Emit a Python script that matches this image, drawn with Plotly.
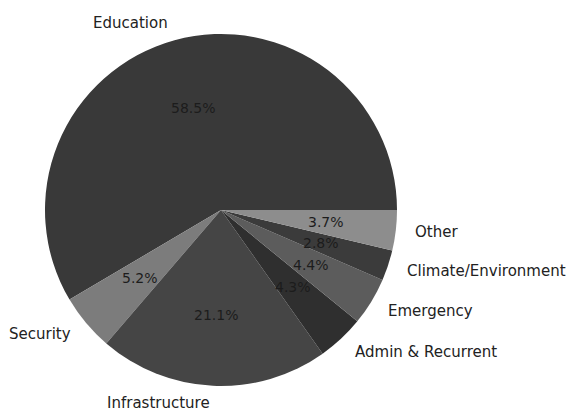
import math
import plotly.graph_objects as go

categories = ["Education", "Security", "Infrastructure", "Admin & Recurrent",
              "Emergency", "Climate/Environment", "Other"]
shares = [58.5, 5.2, 21.1, 4.3, 4.4, 2.8, 3.7]
colors = ["#393939", "#7c7c7c", "#454545", "#2f2f2f", "#5c5c5c", "#3b3b3b", "#8d8d8d"]

W, H = 573, 412
CX, CY, R = 221, 210, 176  # pixel centre / radius of the pie

total = sum(shares)
# plotly's counterclockwise pies place the first slice clockwise of `rotation`;
# shift so the first slice starts at 3 o'clock and runs counterclockwise
rot = 90 - 360 * shares[0] / total

fig = go.Figure(go.Pie(
    labels=categories, values=shares, sort=False,
    direction="counterclockwise", rotation=rot,
    marker=dict(colors=colors, line=dict(width=0)),
    textinfo="none", hoverinfo="label+percent", showlegend=False,
    domain=dict(x=[(CX - R) / W, (CX + R) / W],
                y=[(H - CY - R) / H, (H - CY + R) / H]),
))

ann = []
start = 0.0
for cat, v in zip(categories, shares):
    mid = math.radians((start + v / 2) / total * 360)
    start += v
    c, s = math.cos(mid), math.sin(mid)
    # outer label
    lx = (CX + 1.1 * R * c) / W
    ly = (H - CY + 1.1 * R * s) / H
    ann.append(dict(x=lx, y=ly, xref="paper", yref="paper", text=cat,
                    showarrow=False, xanchor="left" if c > 0 else "right",
                    yanchor="middle",
                    font=dict(family="DejaVu Sans", size=15, color="#222222")))
    # percentage
    px = (CX + 0.6 * R * c) / W
    py = (H - CY + 0.6 * R * s) / H
    ann.append(dict(x=px, y=py, xref="paper", yref="paper",
                    text=f"{v / total * 100:.1f}%", showarrow=False,
                    xanchor="center", yanchor="middle",
                    font=dict(family="DejaVu Sans", size=14, color="#1c1c1c")))

fig.update_layout(
    width=W, height=H, margin=dict(l=0, r=0, t=0, b=0),
    paper_bgcolor="white", plot_bgcolor="white",
    annotations=ann,
)
fig.write_html("out.html")
